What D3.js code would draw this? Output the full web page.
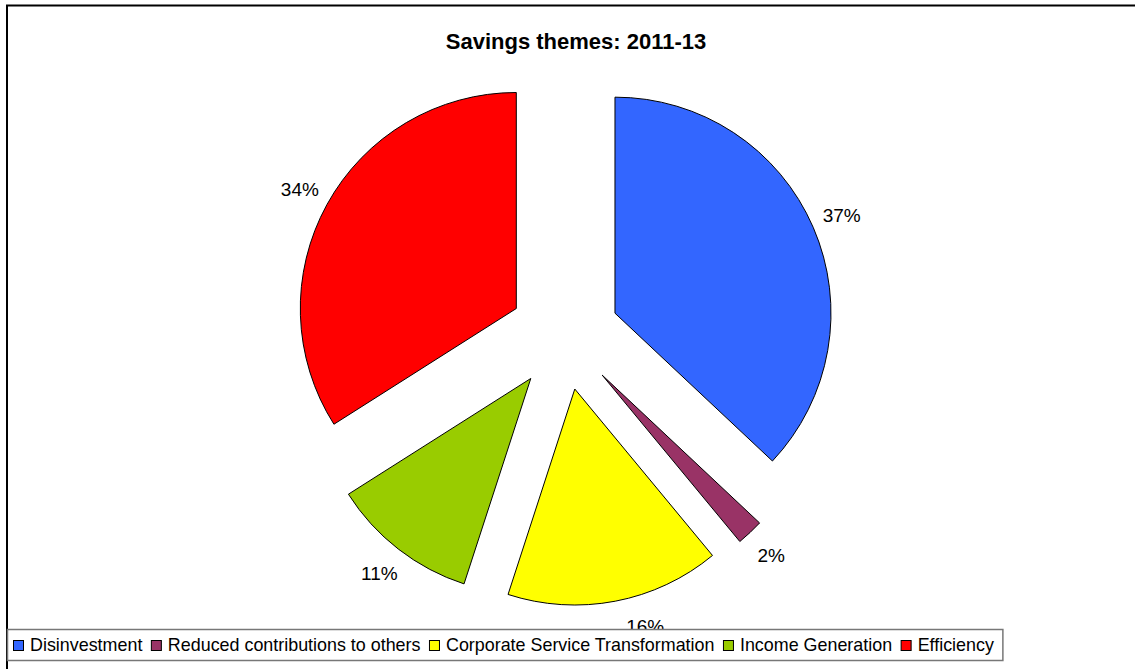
<!DOCTYPE html>
<html>
<head>
<meta charset="utf-8">
<script src="https://cdn.jsdelivr.net/npm/d3@7"></script>
<style>
  html, body { margin: 0; padding: 0; background: #fff; }
  svg { display: block; }
  text { font-family: "Liberation Sans", Arial, sans-serif; fill: #000; }
</style>
</head>
<body>
<svg id="chart" width="1139" height="669"></svg>
<script>
// Savings themes 2011-13, share of total savings (%)
const categories = [
  "Disinvestment",
  "Reduced contributions to others",
  "Corporate Service Transformation",
  "Income Generation",
  "Efficiency"
];
const shares = [37, 2, 16, 11, 34];
const colors = ["#3366FF", "#993366", "#FFFF00", "#99CC00", "#FF0000"];
const title = "Savings themes: 2011-13";

const W = 1139, H = 669;
const cx = 564.5, cy = 335;       // pie centre
const radius = 216;
const explode = 55;               // every slice pulled out by the same distance
const labelRadius = 302;
const labelMaxY = 626;            // labels stay above the legend strip

const svg = d3.select("#chart");

// chart frame (left and top edges)
svg.append("path")
  .attr("d", `M7,${H} V5.5 H1135`)
  .attr("fill", "none")
  .attr("stroke", "#000")
  .attr("stroke-width", 2);

svg.append("text")
  .attr("x", 576).attr("y", 49)
  .attr("text-anchor", "middle")
  .style("font-weight", "bold")
  .style("font-size", "22px")
  .text(title);

const data = categories.map((c, i) => ({ name: c, value: shares[i], color: colors[i] }));

const pie = d3.pie().value(d => d.value).sort(null).startAngle(0).endAngle(2 * Math.PI);
const arcs = pie(data);
const arc = d3.arc().innerRadius(0).outerRadius(radius);

const g = svg.append("g").attr("transform", `translate(${cx},${cy})`);

g.selectAll("path.slice")
  .data(arcs)
  .join("path")
  .attr("class", "slice")
  .attr("d", arc)
  .attr("fill", d => d.data.color)
  .attr("stroke", "#000")
  .attr("stroke-width", 1)
  .attr("stroke-linejoin", "round")
  .attr("transform", d => {
    const a = (d.startAngle + d.endAngle) / 2;
    return `translate(${explode * Math.sin(a)},${-explode * Math.cos(a)})`;
  });

// percentage labels on a ring around the pie
g.selectAll("text.pct")
  .data(arcs)
  .join("text")
  .attr("class", "pct")
  .attr("text-anchor", "middle")
  .attr("dominant-baseline", "central")
  .style("font-size", "19px")
  .each(function (d) {
    let a = (d.startAngle + d.endAngle) / 2;
    let y = -labelRadius * Math.cos(a);
    if (cy + y > labelMaxY) {
      // slide along the ring until the label clears the legend
      const c = (labelMaxY - cy) / labelRadius;
      const t = Math.acos(c);
      a = a < Math.PI ? Math.PI - t : Math.PI + t;
      y = -labelRadius * Math.cos(a);
    }
    d3.select(this)
      .attr("x", labelRadius * Math.sin(a))
      .attr("y", y);
  })
  .text(d => d3.format(".0f")(d.data.value) + "%");

// legend strip along the bottom
const legend = svg.append("g");
const legendBox = legend.append("rect")
  .attr("x", 7.5).attr("y", 629.5)
  .attr("height", 31)
  .attr("fill", "#fff")
  .attr("stroke", "#777")
  .attr("stroke-width", 1.5);

let lx = 13;
data.forEach(d => {
  legend.append("rect")
    .attr("x", lx + 0.5).attr("y", 640.5)
    .attr("width", 10).attr("height", 10)
    .attr("fill", d.color)
    .attr("stroke", "#000")
    .attr("stroke-width", 1);
  const t = legend.append("text")
    .attr("x", lx + 17).attr("y", 650.5)
    .style("font-size", "17.9px")
    .text(d.name);
  lx += 17 + t.node().getComputedTextLength() + 8.5;
});
legendBox.attr("width", lx + 0.5 - 7.5);
</script>
</body>
</html>
